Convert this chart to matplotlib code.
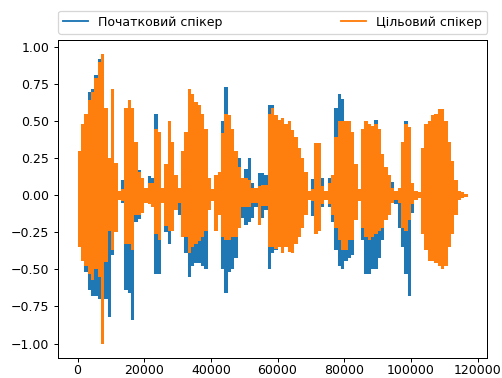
import numpy as np
import matplotlib
matplotlib.use("Agg")
import matplotlib.pyplot as plt
from matplotlib.lines import Line2D

# envelope, one value per 1000 samples
chunk = 1000

source_top = [0.25, 0.42, 0.50, 0.70, 0.72, 0.81, 0.92, 0.85, 0.45, 0.22,
              0.30, 0.15, 0.03, 0.10, 0.45, 0.50, 0.50, 0.30, 0.17, 0.10,
              0.05, 0.13, 0.12, 0.55, 0.38, 0.05, 0.17, 0.40, 0.30, 0.12,
              0.04, 0.25, 0.38, 0.65, 0.60, 0.55, 0.55, 0.50, 0.40, 0.10,
              0.03, 0.10, 0.12, 0.50, 0.73, 0.50, 0.40, 0.28, 0.25, 0.10,
              0.18, 0.25, 0.08, 0.05, 0.15, 0.15, 0.14, 0.61, 0.61, 0.50,
              0.45, 0.46, 0.42, 0.45, 0.40, 0.35, 0.28, 0.22, 0.14, 0.03,
              0.11, 0.30, 0.30, 0.12, 0.03, 0.12, 0.12, 0.59, 0.68, 0.65,
              0.45, 0.45, 0.38, 0.18, 0.03, 0.40, 0.45, 0.45, 0.42, 0.51,
              0.40, 0.25, 0.17, 0.12, 0.09, 0.03, 0.04, 0.30, 0.50, 0.42,
              0.06, 0.03, 0.02, 0.25, 0.38, 0.40, 0.43, 0.44, 0.46, 0.46,
              0.40, 0.29, 0.18, 0.08, 0.02, 0.01, 0.01]
source_bottom = [-0.30, -0.40, -0.52, -0.64, -0.68, -0.68, -0.70, -0.70, -0.70, -0.82,
                 -0.40, -0.20, -0.03, -0.05, -0.64, -0.66, -0.84, -0.18, -0.16, -0.10,
                 -0.05, -0.06, -0.08, -0.53, -0.53, -0.05, -0.25, -0.33, -0.22, -0.10,
                 -0.13, -0.25, -0.39, -0.55, -0.48, -0.46, -0.46, -0.48, -0.50, -0.10,
                 -0.03, -0.15, -0.12, -0.50, -0.66, -0.52, -0.50, -0.42, -0.22, -0.15,
                 -0.20, -0.18, -0.15, -0.08, -0.10, -0.15, -0.10, -0.50, -0.39, -0.37,
                 -0.33, -0.36, -0.33, -0.35, -0.35, -0.30, -0.25, -0.20, -0.12, -0.03,
                 -0.14, -0.22, -0.20, -0.08, -0.03, -0.08, -0.18, -0.37, -0.48, -0.50,
                 -0.44, -0.42, -0.40, -0.15, -0.03, -0.30, -0.53, -0.53, -0.50, -0.50,
                 -0.42, -0.30, -0.15, -0.10, -0.05, -0.06, -0.22, -0.35, -0.53, -0.68,
                 -0.12, -0.03, -0.02, -0.20, -0.30, -0.35, -0.35, -0.37, -0.38, -0.40,
                 -0.38, -0.28, -0.21, -0.10, -0.02, -0.01, -0.01]

target_top = [0.30, 0.48, 0.55, 0.64, 0.70, 0.79, 0.90, 0.95, 0.59, 0.25,
              0.72, 0.22, 0.03, 0.04, 0.59, 0.64, 0.59, 0.36, 0.16, 0.12,
              0.05, 0.08, 0.08, 0.45, 0.43, 0.05, 0.21, 0.50, 0.36, 0.14,
              0.05, 0.30, 0.43, 0.72, 0.68, 0.63, 0.61, 0.55, 0.45, 0.12,
              0.04, 0.14, 0.16, 0.42, 0.55, 0.54, 0.45, 0.30, 0.19, 0.12,
              0.12, 0.10, 0.05, 0.05, 0.06, 0.07, 0.07, 0.55, 0.59, 0.54,
              0.51, 0.52, 0.48, 0.50, 0.44, 0.39, 0.32, 0.25, 0.16, 0.03,
              0.04, 0.35, 0.35, 0.06, 0.03, 0.08, 0.14, 0.39, 0.50, 0.50,
              0.50, 0.50, 0.43, 0.21, 0.04, 0.45, 0.50, 0.48, 0.47, 0.48,
              0.45, 0.28, 0.19, 0.14, 0.05, 0.03, 0.05, 0.36, 0.48, 0.46,
              0.08, 0.03, 0.02, 0.32, 0.48, 0.50, 0.54, 0.55, 0.58, 0.58,
              0.50, 0.36, 0.23, 0.10, 0.03, 0.02, 0.01]
target_bottom = [-0.35, -0.44, -0.48, -0.53, -0.57, -0.50, -0.55, -1.00, -0.45, -0.24,
                 -0.37, -0.25, -0.03, -0.04, -0.33, -0.33, -0.37, -0.13, -0.13, -0.12,
                 -0.05, -0.06, -0.08, -0.26, -0.30, -0.05, -0.21, -0.24, -0.24, -0.10,
                 -0.05, -0.28, -0.28, -0.39, -0.35, -0.33, -0.31, -0.28, -0.24, -0.10,
                 -0.04, -0.24, -0.13, -0.28, -0.30, -0.30, -0.28, -0.28, -0.22, -0.08,
                 -0.08, -0.08, -0.05, -0.05, -0.20, -0.07, -0.07, -0.35, -0.35, -0.36,
                 -0.35, -0.39, -0.35, -0.38, -0.39, -0.33, -0.28, -0.22, -0.13, -0.03,
                 -0.04, -0.26, -0.24, -0.06, -0.03, -0.06, -0.13, -0.22, -0.30, -0.37,
                 -0.37, -0.30, -0.30, -0.17, -0.04, -0.22, -0.28, -0.30, -0.28, -0.26,
                 -0.24, -0.22, -0.17, -0.13, -0.05, -0.03, -0.05, -0.22, -0.24, -0.17,
                 -0.06, -0.03, -0.02, -0.26, -0.37, -0.44, -0.44, -0.46, -0.48, -0.50,
                 -0.48, -0.35, -0.26, -0.13, -0.03, -0.02, -0.01]

labels = ["Початковий спікер", "Цільовий спікер"]
colors = ["#1f77b4", "#ff7f0e"]

dpi = 90
fig = plt.figure(figsize=(502 / dpi, 378 / dpi), dpi=dpi)
ax = fig.add_axes([58 / 502, 20 / 378, 429 / 502, 318 / 378])

edges = np.arange(len(source_top) + 1) * chunk
# dense waveform drawn as its min/max envelope per chunk
for top, bottom, c in [(source_top, source_bottom, colors[0]),
                       (target_top, target_bottom, colors[1])]:
    p = ax.stairs(top, edges, baseline=bottom, fill=True, color=c, lw=0.6)
    p.sticky_edges.x.clear()
    p.sticky_edges.y.clear()
ax.autoscale_view()
ax.tick_params(axis="x", pad=1)

handles = [Line2D([], [], color=c) for c in colors]
ax.legend(handles, labels, bbox_to_anchor=(0., 1.02, 1., .102),
          loc="lower left", ncol=2, mode="expand", borderaxespad=0.)

fig.savefig("out.png", dpi=dpi)
